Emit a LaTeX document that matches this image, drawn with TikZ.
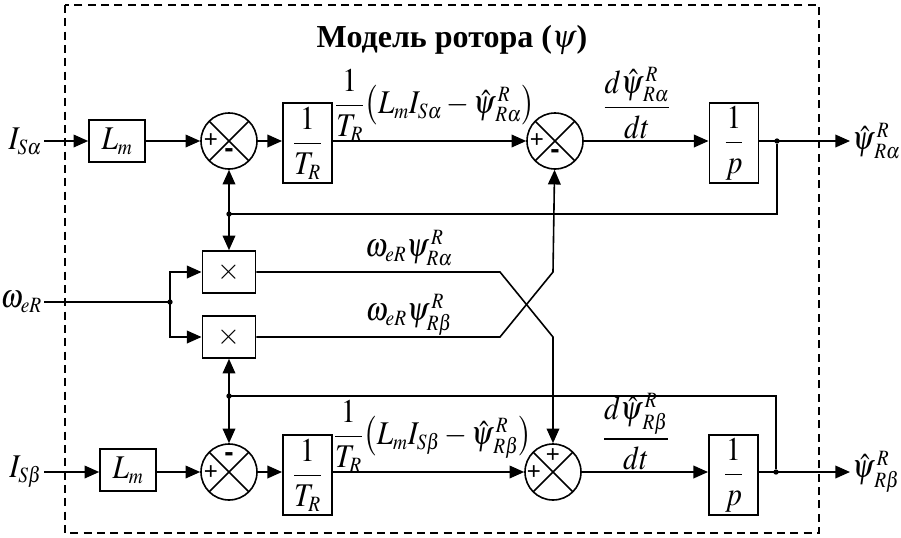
\documentclass[tikz,border=0pt]{standalone}
\usepackage{amsmath}
\usepackage{amssymb}
\usepackage{mathptmx}
\usepackage{fontspec}
\setmainfont{Liberation Serif}
\setsansfont{Liberation Sans}
\usepackage{tikz}
\usetikzlibrary{calc,positioning,arrows.meta}
\DeclareMathSizes{22}{22}{14.5}{11}
\newcommand{\vs}[1]{\scalebox{1}[1.13]{#1}}

\tikzset{
  blk/.style={draw,rectangle,inner sep=0pt,line width=1.2pt},
  lmblk/.style={blk,minimum width=42pt,minimum height=31.5pt},
  frblk/.style={blk,minimum width=37pt,minimum height=60pt},
  mulblk/.style={blk,minimum width=40pt,minimum height=31.5pt},
  sumnode/.style={draw,circle,minimum size=42pt,inner sep=0pt,line width=1.2pt,
    path picture={\draw[line width=1.2pt] (path picture bounding box.north west) -- (path picture bounding box.south east)
      (path picture bounding box.north east) -- (path picture bounding box.south west);}},
  sgn/.style={font=\sffamily\fontsize{18}{18}\selectfont,inner sep=0pt},
  sgnm/.style={font=\sffamily\bfseries\fontsize{21}{21}\selectfont,inner sep=0pt},
  jdot/.style={circle,fill,inner sep=0pt,minimum size=4pt}
}

\begin{document}
\begin{tikzpicture}[x=0.75pt,y=-0.75pt,line width=1.2pt,
  font=\fontsize{22}{26}\selectfont,
  >={Triangle[length=11pt,width=9.5pt]}]
\useasboundingbox (0,0) rectangle (901,537);
\draw[dash pattern=on 6pt off 4pt] (65,5) rectangle (819,533);
\node[font=\bfseries\fontsize{24}{28}\selectfont] (ttl) at (452,40) {Модель ротора ($\psi$)};

\node[anchor=east,inner sep=1pt] (ia) at (44,141) {\vs{$I_{S\alpha}$}};
\node[lmblk] (lma) at (117,141) {\vs{$L_m$}};
\node[sumnode] (s1) at (229,141) {};
\node[frblk] (tra) at (307.5,143) {\vs{$\dfrac{1}{T_R}$}};
\node[sumnode] (s2) at (555,141) {};
\node[frblk] (inta) at (734,143) {\vs{$\dfrac{1}{p}$}};
\node[jdot] (dota) at (777,141) {};
\node[anchor=west,inner sep=1pt] (oa) at (850,141) {\vs{$\hat{\psi}^{\,R}_{\,R\alpha}$}};

\node[anchor=east,inner sep=1pt] (ib) at (44,472) {\vs{$I_{S\beta}$}};
\node[lmblk] (lmb) at (128,470) {\vs{$L_m$}};
\node[sumnode] (s3) at (229,472) {};
\node[frblk] (trb) at (307.5,475) {\vs{$\dfrac{1}{T_R}$}};
\node[sumnode] (s4) at (553,472) {};
\node[frblk] (intb) at (733.5,475) {\vs{$\dfrac{1}{p}$}};
\node[jdot] (dotb) at (776,472) {};
\node[anchor=west,inner sep=1pt] (ob) at (850,472) {\vs{$\hat{\psi}^{\,R}_{\,R\beta}$}};

\node[anchor=east,inner sep=1pt] (w) at (44,302) {\vs{$\omega_{eR}$}};
\node[jdot] (jw) at (170,302) {};
\node[mulblk] (ma) at (229,272) {$\times$};
\node[mulblk] (mb) at (229,337) {$\times$};
\node[jdot] (ja) at (229,214) {};
\node[jdot] (jb) at (229,396) {};

\node[sgn] at ($(s1)+(-18,0)$) {+};
\node[sgnm] at ($(s1)+(0,12)$) {-};
\node[sgn] at ($(s2)+(-18,0)$) {+};
\node[sgnm] at ($(s2)+(0,13)$) {-};
\node[sgnm] at ($(s3)+(0,-15)$) {-};
\node[sgn] at ($(s3)+(-18,1)$) {+};
\node[sgn] at ($(s4)+(0,-16)$) {+};
\node[sgn] at ($(s4)+(-19,1)$) {+};

\node (fa) at (435,105) {\vs{$\dfrac{1}{T_R}\bigl(L_m I_{S\alpha}-\hat{\psi}^{\,R}_{\,R\alpha}\bigr)$}};
\node (da) at (637,103) {\vs{$\dfrac{d\hat{\psi}^{\,R}_{\,R\alpha}}{dt}$}};
\node (fb) at (433,436) {\vs{$\dfrac{1}{T_R}\bigl(L_m I_{S\beta}-\hat{\psi}^{\,R}_{\,R\beta}\bigr)$}};
\node (db) at (636,432) {\vs{$\dfrac{d\hat{\psi}^{\,R}_{\,R\beta}}{dt}$}};
\node (wa) at (409,248) {\vs{$\omega_{eR}\psi^{\,R}_{R\alpha}$}};
\node (wb) at (409,315) {\vs{$\omega_{eR}\psi^{\,R}_{R\beta}$}};

\draw[->] (ia) -- (lma);
\draw[->] (lma) -- (s1);
\draw[->] (s1) -- (tra.west|-s1);
\draw[->] (tra.east|-s2) -- (s2);
\draw[->] (s2) -- (inta.west|-s2);
\draw[->] (inta.east|-dota) -- (oa);
\draw (dota) |- (ja.center);
\draw[->] (ja.center) -- (s1);
\draw[->] (ja.center) -- (ma);

\draw[->] (ib) -- (lmb.west|-s3);
\draw[->] (lmb.east|-s3) -- (s3);
\draw[->] (s3) -- (trb.west|-s3);
\draw[->] (trb.east|-s4) -- (s4);
\draw[->] (s4) -- (intb.west|-s4);
\draw[->] (intb.east|-dotb) -- (ob);
\draw (dotb) |- (jb.center);
\draw[->] (jb.center) -- (s3);
\draw[->] (jb.center) -- (mb);

\draw (w) -- (jw.center);
\draw[->] (jw.center) |- (ma);
\draw[->] (jw.center) |- (mb);
\draw[->] (ma) -- (500,272) -- (553,337) -- (s4);
\draw[->] (mb) -- (500,337) -- (553,272) -- (s2);
\end{tikzpicture}
\end{document}
